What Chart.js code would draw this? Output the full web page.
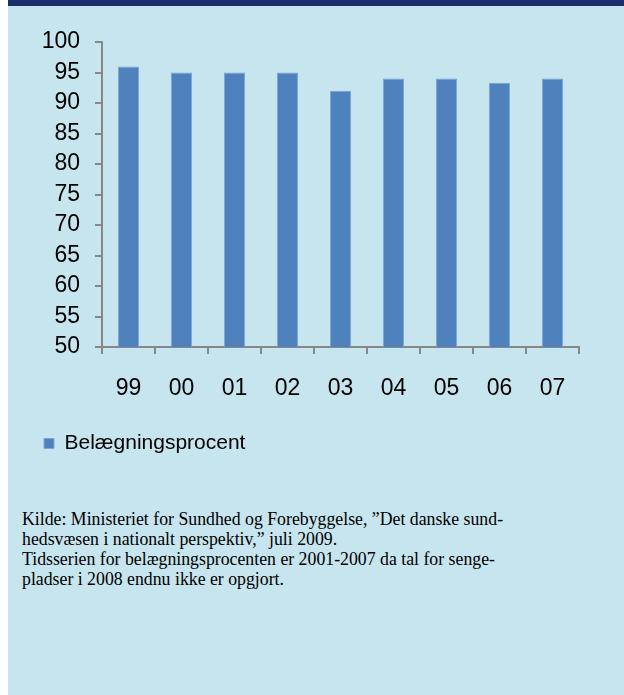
<!DOCTYPE html>
<html>
<head>
<meta charset="utf-8">
<script src="https://cdn.jsdelivr.net/npm/chart.js@4/dist/chart.umd.min.js"></script>
<style>
  html, body { margin: 0; padding: 0; background: #ffffff; }
  body { width: 624px; height: 695px; position: relative; overflow: hidden; }
  #panel { position: absolute; left: 8px; top: 0; width: 616px; height: 695px; background: #c7e5ee; }
  #band { position: absolute; left: 8px; top: 0; width: 616px; height: 6px; background: #1c2f6b; }
  #wrap { position: absolute; left: 8px; top: 6px; width: 616px; height: 479px; }
  #note { position: absolute; left: 22px; top: 509px; font-family: 'Liberation Serif', 'Times New Roman', serif;
          font-size: 19px; line-height: 20px; color: #000; white-space: nowrap;
          transform: scaleX(0.935); transform-origin: 0 0; }
</style>
</head>
<body>
<div id="panel"></div>
<div id="band"></div>
<div id="wrap"><canvas id="c"></canvas></div>
<div id="note">Kilde: Ministeriet for Sundhed og Forebyggelse, ”Det danske sund-<br>hedsvæsen i nationalt perspektiv,” juli 2009.<br>Tidsserien for belægningsprocenten er 2001-2007 da tal for senge-<br>pladser i 2008 endnu ikke er opgjort.</div>
<script>
const categories = ['99', '00', '01', '02', '03', '04', '05', '06', '07'];
const seriesName = 'Belægningsprocent';
const occupancy = [96, 95, 95, 95, 92, 94, 94, 93.3, 94];
const yTicks = [50, 55, 60, 65, 70, 75, 80, 85, 90, 95, 100];

const axisColor = '#878787';
new Chart(document.getElementById('c'), {
  type: 'bar',
  data: {
    labels: categories,
    datasets: [{
      label: seriesName,
      data: occupancy,
      backgroundColor: '#4f81bd',
      borderColor: '#7aa5d6',
      borderWidth: 1,
      categoryPercentage: 1,
      barPercentage: 0.4
    }]
  },
  options: {
    responsive: true,
    maintainAspectRatio: false,
    animation: false,
    devicePixelRatio: 1,
    layout: { padding: { left: 13, right: 45, top: 36, bottom: 21 } },
    plugins: {
      tooltip: { enabled: false },
      legend: {
        position: 'bottom',
        align: 'start',
        labels: {
          boxWidth: 10, boxHeight: 10, padding: 23,
          color: '#000',
          font: { family: "'Liberation Sans', Arial, sans-serif", size: 21 }
        }
      }
    },
    scales: {
      x: {
        grid: { drawOnChartArea: false, drawTicks: true, tickLength: 7, color: axisColor, lineWidth: 2, offset: true },
        border: { display: true, color: axisColor, width: 2 },
        ticks: { color: '#000', padding: 21, autoSkip: false, maxRotation: 0, font: { family: "'Liberation Sans', Arial, sans-serif", size: 23 } },
        afterFit: (s) => { s.height = 63; }
      },
      y: {
        min: 50, max: 100,
        afterBuildTicks: (s) => { s.ticks = yTicks.map(v => ({ value: v })); },
        grid: { drawOnChartArea: false, drawTicks: true, tickLength: 7, color: axisColor, lineWidth: 2 },
        border: { display: true, color: axisColor, width: 2 },
        ticks: { color: '#000', padding: 15, autoSkip: false, font: { family: "'Liberation Sans', Arial, sans-serif", size: 23 } },
        afterFit: (s) => { s.width = 81; }
      }
    }
  }
});
</script>
</body>
</html>
